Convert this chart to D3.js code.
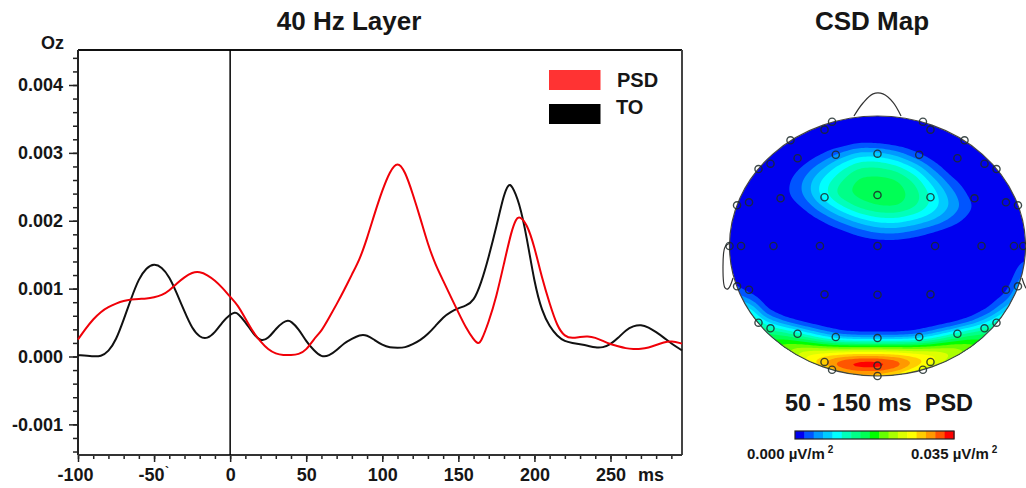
<!DOCTYPE html>
<html>
<head>
<meta charset="utf-8">
<script src="https://cdn.jsdelivr.net/npm/d3@7"></script>
<style>
    html, body { margin: 0; padding: 0; background: #fff; overflow: hidden; }
    svg { display: block; font-family: "Liberation Sans", Arial, sans-serif; font-weight: bold; }
</style>
</head>
<body>
<div id="chart"></div>
<script>
// time in ms, amplitude
var timesBlack = [-100,-90,-85,-80,-75,-70,-65,-60,-55,-50,-45,-40,-35,-30,-25,-20,-15,-10,-5,0,3,5,10,15,20,25,30,35,38,40,45,50,55,60,65,70,75,80,85,90,95,100,105,110,115,120,125,130,135,140,145,150,155,160,165,170,175,180,183,185,190,195,200,205,210,215,220,225,230,235,240,245,250,255,260,265,270,275,280,285,290,297];
var valuesBlack = [.00002,0,0,.00007,.00024,.00054,.00086,.00115,.00131,.00137,.00132,.00118,.00093,.00066,.00041,.00028,.00026,.00035,.00051,.00062,.00065,.00064,.00051,.00034,.00022,.00026,.00041,.00051,.00053,.00052,.00041,.00022,.00009,-.00001,.00001,.00009,.0002,.00026,.00032,.00032,.00024,.00017,.00013,.00013,.00013,.00018,.00024,.00033,.00045,.00058,.00066,.00071,.00075,.00081,.00108,.00147,.00191,.0024,.00254,.00253,.00228,.00176,.00108,.00066,.00044,.0003,.00022,.0002,.00018,.00016,.00013,.00013,.00018,.00027,.00039,.00045,.00047,.00043,.00036,.00028,.00019,.00009];

var timesRed = [-100,-95,-90,-85,-80,-75,-70,-65,-60,-55,-50,-45,-40,-35,-30,-25,-20,-15,-10,-5,0,5,10,15,20,25,30,35,40,45,50,55,60,65,70,75,80,85,90,95,100,105,110,115,120,125,130,135,140,145,150,155,160,163,165,170,175,180,185,188,190,195,200,205,210,215,220,225,230,235,240,245,250,255,260,265,270,275,280,285,290,297];
var valuesRed = [.00025,.00041,.00055,.00066,.00073,.00078,.00082,.00084,.00085,.00085,.00087,.0009,.00097,.00108,.00117,.00124,.00125,.0012,.00112,.00101,.00088,.00076,.00056,.00036,.00022,.0001,.00004,.00002,.00002,.00003,.00009,.00026,.00037,.00057,.00077,.00098,.00121,.00142,.00174,.00211,.00245,.00273,.00288,.00273,.0024,.00204,.00165,.00135,.00112,.00088,.00065,.00042,.00025,.00018,.00022,.00051,.00088,.00137,.00186,.00203,.00207,.00196,.00162,.00115,.00078,.00044,.00029,.00027,.00029,.0003,.00028,.00023,.00018,.00015,.00012,.00011,.00011,.00013,.00017,.00021,.00023,.00019];

var xTicks = [-100,-50,0,50,100,150,200,250];
var xTickLabels = ["-100","-50","0","50","100","150","200","250"];
var yTicks = [-0.001,0,0.001,0.002,0.003,0.004];
var yTickLabels = ["-0.001","0.000","0.001","0.002","0.003","0.004"];
var legendNames = ["PSD","TO"];
var legendColors = ["#ff3333","#000000"];

// CSD map: scalp field sampled on a head grid, in 0.001 uV/m2 (u left-right, v back-front)
var csdU = [-1,-.875,-.75,-.625,-.5,-.375,-.25,-.125,0,.125,.25,.375,.5,.625,.75,.875,1];
var csdV = [1,.9,.8,.7,.6,.5,.4,.3,.2,.1,0,-.1,-.2,-.3,-.4,-.5,-.55,-.6,-.65,-.7,-.75,-.8,-.85,-.9,-.95,-1];
var csdRows = [
    [0,0,0,0,0,0,0,0,0,0,0,0,0,0,0,0,0],
    [0,0,0,0,0,0,0,0,0,0,0,0,0,0,0,0,0],
    [0,0,0,0,0,0,0,1,.8,.2,0,0,0,0,0,0,0],
    [0,0,0,0,.2,2,5,8,8,6,2.6,.5,0,0,0,0,0],
    [0,0,0,.2,2.4,6,10,13,13.2,12,8.6,3.6,.2,0,0,0,0],
    [0,0,0,1.2,4.5,9,12.5,15.5,15.8,15.4,12.5,7.4,2.8,.2,0,0,0],
    [0,0,0,1.5,4.5,9.5,14.2,15.6,16,16,14,9.8,5.2,1.4,0,0,0],
    [0,0,0,.2,2.2,6,10,13.5,15,15.2,13.2,9.8,6,2.6,.1,0,0],
    [0,0,0,0,.1,2,4.8,7.5,9.5,9.8,8.4,6.4,3.6,1,0,0,0],
    [0,0,0,0,0,0,.8,2.6,4,4.2,3,1.4,.3,0,0,0,0],
    [0,0,0,0,0,0,0,0,.2,.2,0,0,0,0,0,0,0],
    [0,0,0,0,0,0,0,0,0,0,0,0,0,0,0,0,2],
    [0,0,0,0,0,0,0,0,0,0,0,0,0,0,0,0,4.5],
    [2.5,.2,0,0,0,0,0,0,0,0,0,0,0,0,0,.8,7.5],
    [7,3.5,.2,0,0,0,0,0,0,0,0,0,0,0,.3,2.8,11],
    [12,11,2,.2,0,0,0,0,0,0,0,0,0,.2,2.2,8.5,15],
    [14,14,5.5,1.5,.3,0,0,0,0,0,0,0,.2,1.6,6,12,17],
    [16,16,10,5,1.8,.4,0,0,0,0,0,.3,1.4,4.5,10,16,18],
    [18,18,14,12,7.5,3.5,1,.4,.4,.4,1,3.5,7.5,12,14,18,18],
    [19,19,16,16,13,9,5.5,4,4,4,5.5,9,13,16,16,19,19],
    [19,19,18,19,19,16,14,14,14,14,14,16,19,19,18,19,19],
    [19,19,18,22,23,24,24,24,24,24,24,24,23,22,18,19,19],
    [18,18,17,19,26,27,29,30,30,29,27,26,24,19,17,18,18],
    [18,18,17,17,26,31,35,37,37,35,31,27,21,16,16,18,18],
    [17,17,17,17,21,27,33,35,35,33,27,22,17,16,16,17,17],
    [16,16,16,16,16,20,23,25,25,23,20,16,16,16,16,16,16]
];
var csdColors = ["#0000f0","#0055ff","#0099ff","#00ccff","#00ffff","#00ffbb","#00ff88","#00ff55","#00ff00","#66ff00","#aaff00","#ddff00","#ffff00","#ffcc00","#ff9900","#ff5500","#ff0000"];
var csdStep = 2.1;

// electrodes in head units
var sensorU = [-.307,-.358,.307,.358,-.588,.588,-.804,-.723,-.54,-.282,0,.282,.54,.723,.804,-.949,-.868,-.655,-.358,0,.358,.655,.868,.949,-1,-.922,-.703,-.389,0,.389,.703,.922,.985,-.949,-.868,-.358,0,.358,.868,.949,-.804,-.723,-.54,-.282,0,.282,.54,.723,.804,-.358,-.307,0,0,.307,.358];
var sensorV = [.956,.895,.956,.895,.813,.813,.592,.633,.675,.702,.71,.702,.675,.633,.592,.313,.336,.367,.375,.392,.375,.367,.336,.313,0,0,0,0,0,0,0,0,0,-.31,-.336,-.372,-.375,-.372,-.336,-.31,-.59,-.633,-.675,-.7,-.708,-.7,-.675,-.633,-.59,-.892,-.952,-.92,-1,-.952,-.892];

var noseU = [-.159,-.098,-.03,.037,.105,.159];
var noseV = [1,1.1,1.17,1.17,1.105,1];
var earU = [-.997,-1.03,-1.044,-1.03,-1.01,-.976];
var earV = [.023,-.008,-.16,-.323,-.33,-.246];

function init() {
    var w = 1026;
    var h = 488;
    var plot = {left: 78, right: 682, top: 50, bottom: 455};
    var textColor = "#161616";

    var svg = d3.select("#chart").append("svg")
        .attr("width", w)
        .attr("height", h);

    var xScale = d3.scaleLinear().domain([-100, 297]).range([plot.left, plot.right]);
    var yScale = d3.scaleLinear().domain([0, 0.004]).range([356.5, 85]);

    // minor ticks first, the labelled ticks on top
    var xMinor = d3.range(-100, 297, 10);
    var yMinor = d3.range(-14, 45, 2).map(function(d) { return d / 10000; });

    svg.append("g")
        .attr("transform", "translate(0," + plot.bottom + ")")
        .call(d3.axisBottom(xScale).tickValues(xMinor).tickSize(4).tickFormat(""))
        .call(styleAxis);
    svg.append("g")
        .attr("transform", "translate(" + plot.left + ",0)")
        .call(d3.axisLeft(yScale).tickValues(yMinor).tickSize(5).tickFormat(""))
        .call(styleAxis);

    var xAxis = svg.append("g")
        .attr("transform", "translate(0," + plot.bottom + ")")
        .call(d3.axisBottom(xScale).tickValues(xTicks).tickSize(7).tickPadding(6)
            .tickFormat(function(d, i) { return xTickLabels[i]; }))
        .call(styleAxis);
    xAxis.selectAll("text").attr("font-size", 18)
        .attr("dx", function(d) { return d < 0 ? -3 : 0; });

    var yAxis = svg.append("g")
        .attr("transform", "translate(" + plot.left + ",0)")
        .call(d3.axisLeft(yScale).tickValues(yTicks).tickSize(9).tickPadding(6)
            .tickFormat(function(d, i) { return yTickLabels[i]; }))
        .call(styleAxis);
    yAxis.selectAll("text").attr("font-size", 18);

    function styleAxis(g) {
        g.selectAll(".domain").remove();
        g.selectAll("line").attr("stroke", "#222").attr("stroke-width", 1.5);
        g.selectAll("text").attr("fill", textColor).attr("font-family", "Liberation Sans").attr("font-weight", "bold");
    }

    // plot frame
    svg.append("line").attr("x1", plot.left).attr("x2", plot.right).attr("y1", plot.top).attr("y2", plot.top)
        .attr("stroke", "#111").attr("stroke-width", 2);
    svg.append("line").attr("x1", plot.left).attr("x2", plot.left).attr("y1", plot.top).attr("y2", plot.bottom)
        .attr("stroke", "#222").attr("stroke-width", 2);
    svg.append("line").attr("x1", plot.right).attr("x2", plot.right).attr("y1", plot.top).attr("y2", plot.bottom)
        .attr("stroke", "#444").attr("stroke-width", 2);
    svg.append("line").attr("x1", plot.left).attr("x2", plot.right).attr("y1", plot.bottom).attr("y2", plot.bottom)
        .attr("stroke", "#333").attr("stroke-width", 2);
    svg.append("line").attr("x1", xScale(0)).attr("x2", xScale(0)).attr("y1", plot.top).attr("y2", plot.bottom)
        .attr("stroke", "#000").attr("stroke-width", 1.5);

    var line = d3.line()
        .x(function(d) { return xScale(d[0]); })
        .y(function(d) { return yScale(d[1]); })
        .curve(d3.curveBasis);

    svg.append("path")
        .attr("d", line(d3.zip(timesBlack, valuesBlack)))
        .attr("fill", "none").attr("stroke", "#111").attr("stroke-width", 2);
    svg.append("path")
        .attr("d", line(d3.zip(timesRed, valuesRed)))
        .attr("fill", "none").attr("stroke", "#f00008").attr("stroke-width", 2);

    // labels
    addText(349, 30, "40 Hz Layer", 26, "middle");
    addText(872, 30, "CSD Map", 26, "middle");
    addText(41, 49, "Oz", 18, "start");
    addText(638, 481, "ms", 18, "start");
    addText(167, 476, "`", 12, "middle");

    // legend
    var legendTop = [70, 104];
    var legendBase = [87, 114];
    var legendX = [617, 616];
    legendNames.forEach(function(name, i) {
        svg.append("rect").attr("x", 549).attr("y", legendTop[i]).attr("width", 51.5).attr("height", 20)
            .attr("fill", legendColors[i]);
        addText(legendX[i], legendBase[i], name, 20, "start");
    });

    function addText(x, y, str, size, anchor) {
        return svg.append("text").attr("x", x).attr("y", y).attr("font-size", size)
            .attr("text-anchor", anchor).attr("fill", textColor).text(str);
    }

    drawHead();

    function drawHead() {
        var headX = d3.scaleLinear().domain([-1, 1]).range([729.5, 1025.5]);
        var headY = d3.scaleLinear().domain([-1, 1]).range([376, 116]);
        var rx = (headX(1) - headX(-1)) / 2;
        var ry = (headY(-1) - headY(1)) / 2;

        svg.append("clipPath").attr("id", "head-clip").append("ellipse")
            .attr("cx", headX(0)).attr("cy", headY(0)).attr("rx", rx).attr("ry", ry);

        // resample the read grid finer, so d3.contours gives round bands
        var n = 149, m = 131;
        var uAt = d3.scaleLinear().domain([0, n - 1]).range([-1, 1]);
        var vAt = d3.scaleLinear().domain([0, m - 1]).range([1, -1]);
        var vAsc = csdV.slice().reverse();
        var fine = new Float64Array(n * m);
        for (var j = 0; j < m; j++) {
            for (var i = 0; i < n; i++) {
                fine[j * n + i] = sample(uAt(i), vAt(j));
            }
        }
        d3.blur2({data: fine, width: n, height: m}, 2);

        function sample(u, v) {
            var c = Math.min(d3.bisectRight(csdU, u) - 1, csdU.length - 2);
            var r = Math.min(d3.bisectRight(vAsc, v) - 1, vAsc.length - 2);
            var tu = (u - csdU[c]) / (csdU[c + 1] - csdU[c]);
            var tv = (v - vAsc[r]) / (vAsc[r + 1] - vAsc[r]);
            var low = csdRows[csdRows.length - 1 - r];
            var high = csdRows[csdRows.length - 2 - r];
            var a = low[c] + (low[c + 1] - low[c]) * tu;
            var b = high[c] + (high[c + 1] - high[c]) * tu;
            return a + (b - a) * tv;
        }

        var thresholds = csdColors.map(function(d, i) { return i * csdStep; }).slice(1);
        var bands = d3.contours().size([n, m]).thresholds(thresholds)(fine);
        var toHead = d3.geoTransform({
            point: function(x, y) {
                this.stream.point(headX(uAt(x - 0.5)), headY(vAt(y - 0.5)));
            }
        });
        var path = d3.geoPath(toHead);

        var field = svg.append("g").attr("clip-path", "url(#head-clip)");
        field.append("ellipse")
            .attr("cx", headX(0)).attr("cy", headY(0)).attr("rx", rx).attr("ry", ry)
            .attr("fill", csdColors[0]);
        field.selectAll("path.band")
            .data(bands)
            .enter()
            .append("path")
            .attr("class", "band")
            .attr("d", path)
            .attr("fill", function(d, i) { return csdColors[i + 1]; });

        svg.append("ellipse")
            .attr("cx", headX(0)).attr("cy", headY(0)).attr("rx", rx).attr("ry", ry)
            .attr("fill", "none").attr("stroke", "#444").attr("stroke-width", 1.2);

        var outline = d3.line()
            .x(function(d) { return headX(d[0]); })
            .y(function(d) { return headY(d[1]); })
            .curve(d3.curveCatmullRom);
        var outlines = [d3.zip(noseU, noseV), d3.zip(earU, earV),
            d3.zip(earU.map(function(d) { return -d; }), earV)];
        svg.selectAll(".outline")
            .data(outlines)
            .enter()
            .append("path")
            .attr("class", "outline")
            .attr("d", outline)
            .attr("fill", "none").attr("stroke", "#333").attr("stroke-width", 1.2);

        svg.selectAll(".sensor")
            .data(d3.zip(sensorU, sensorV))
            .enter()
            .append("circle")
            .attr("class", "sensor")
            .attr("cx", function(d) { return headX(d[0]); })
            .attr("cy", function(d) { return headY(d[1]); })
            .attr("r", 3.6)
            .attr("fill", "none")
            .attr("stroke", "#1c2a2a")
            .attr("stroke-opacity", 0.85)
            .attr("stroke-width", 1.4);

        addText(879, 411, "50 - 150 ms  PSD", 23.5, "middle").style("white-space", "pre");

        // colour bar
        var barScale = d3.scaleBand().domain(d3.range(csdColors.length)).range([795, 954]);
        svg.selectAll(".bar")
            .data(csdColors)
            .enter()
            .append("rect")
            .attr("class", "bar")
            .attr("x", function(d, i) { return barScale(i); })
            .attr("y", 431)
            .attr("width", barScale.bandwidth() + 0.5)
            .attr("height", 8)
            .attr("fill", function(d) { return d; });
        svg.append("rect").attr("x", 795).attr("y", 431).attr("width", 159).attr("height", 8)
            .attr("fill", "none").attr("stroke", "#222").attr("stroke-width", 1.2);

        [[747, "0.000 µV/m"], [911, "0.035 µV/m"]].forEach(function(d) {
            var t = addText(d[0], 459, d[1], 15, "start");
            t.append("tspan").attr("dy", -6).attr("dx", 3).attr("font-size", 10).text("2");
        });
    }
}

window.onload = init;
</script>
</body>
</html>
